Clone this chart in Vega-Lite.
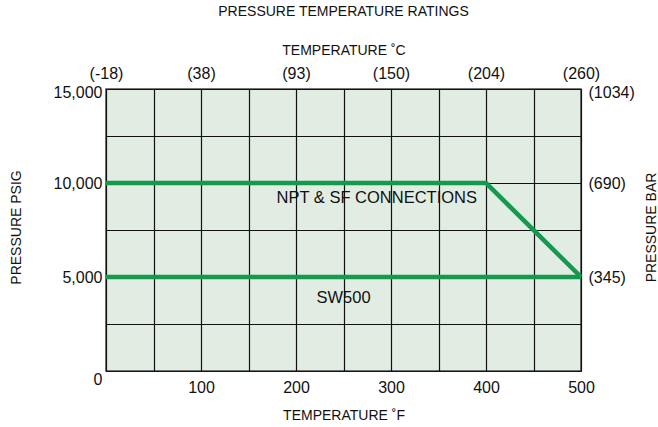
{
  "$schema": "https://vega.github.io/schema/vega-lite/v6.json",
  "autosize": "none",
  "width": 475,
  "height": 282,
  "padding": {"left": 106, "top": 89, "right": 77, "bottom": 56},
  "background": "#ffffff",
  "config": {
    "font": "Liberation Sans",
    "view": {"fill": "#e1ede3", "stroke": "#4a4a4a", "strokeWidth": 1.5},
    "axis": {"labelFont": "Liberation Sans", "titleFont": "Liberation Sans", "labelColor": "#111111", "titleColor": "#111111", "titleFontWeight": "normal", "labelFontSize": 16, "titleFontSize": 14}
  },
  "title": {"text": "PRESSURE TEMPERATURE RATINGS", "fontSize": 14, "fontWeight": "normal", "font": "Liberation Sans", "color": "#111111", "anchor": "middle", "offset": 24},
  "datasets": {
    "lines": [
      {"series": "NPT & SF CONNECTIONS", "tempF": 0, "psig": 10000},
      {"series": "NPT & SF CONNECTIONS", "tempF": 400, "psig": 10000},
      {"series": "NPT & SF CONNECTIONS", "tempF": 500, "psig": 5000},
      {"series": "SW500", "tempF": 0, "psig": 5000},
      {"series": "SW500", "tempF": 500, "psig": 5000}
    ],
    "labels": [
      {"label": "NPT & SF CONNECTIONS", "tempF": 285, "psig": 9200},
      {"label": "SW500", "tempF": 250, "psig": 3880}
    ]
  },
  "resolve": {"axis": {"x": "independent", "y": "independent"}},
  "layer": [
    {
      "data": {"name": "lines"},
      "mark": {"type": "line", "color": "#14994e", "strokeWidth": 4.5, "clip": false},
      "encoding": {
        "x": {"field": "tempF", "type": "quantitative", "scale": {"domain": [0, 500], "nice": false, "zero": false},
          "axis": {"orient": "bottom", "values": [0, 50, 100, 150, 200, 250, 300, 350, 400, 450, 500], "labelExpr": "datum.value % 100 == 0 && datum.value > 0 ? datum.label : ''", "ticks": false, "domain": false, "grid": true, "gridColor": "#111111", "gridOpacity": 1, "gridWidth": 1.2, "labelPadding": 8, "labelFlush": false, "title": "TEMPERATURE ˚F", "titleX": 237.5, "titleY": 44, "titleBaseline": "middle", "titleAlign": "center"}},
        "y": {"field": "psig", "type": "quantitative", "scale": {"domain": [0, 15000], "nice": false},
          "axis": {"orient": "left", "values": [0, 2500, 5000, 7500, 10000, 12500, 15000], "labelExpr": "datum.value % 5000 == 0 ? datum.label : ''", "ticks": false, "domain": false, "grid": true, "gridColor": "#111111", "gridOpacity": 1, "gridWidth": 1.2, "labelPadding": 4, "labelFlush": false, "labelOverlap": false, "labelBaseline": {"condition": {"test": "datum.value == 0", "value": "top"}, "value": "middle"}, "labelOffset": {"condition": {"test": "datum.value == 15000", "value": 3}, "value": 0}, "title": "PRESSURE PSIG", "titleAngle": -90, "titleX": -90, "titleY": 138, "titleBaseline": "middle", "titleAlign": "center"}},
        "detail": {"field": "series"}
      }
    },
    {
      "data": {"name": "labels"},
      "mark": {"type": "text", "fontSize": 16.5, "font": "Liberation Sans", "color": "#111111"},
      "encoding": {
        "x": {"field": "tempF", "type": "quantitative",
          "axis": {"orient": "top", "values": [0, 100, 200, 300, 400, 500], "labelExpr": "{'0': '(-18)', '100': '(38)', '200': '(93)', '300': '(150)', '400': '(204)', '500': '(260)'}[datum.value + '']", "ticks": false, "domain": false, "grid": false, "labelPadding": 8, "labelFlush": false, "labelOverlap": false, "title": "TEMPERATURE ˚C", "titleX": 237.5, "titleY": -39, "titleBaseline": "middle", "titleAlign": "center"}},
        "y": {"field": "psig", "type": "quantitative",
          "axis": {"orient": "right", "values": [5000, 10000, 15000], "labelExpr": "{'5000': '(345)', '10000': '(690)', '15000': '(1034)'}[datum.value + '']", "ticks": false, "domain": false, "grid": false, "labelPadding": 7, "labelFlush": false, "labelOverlap": false, "labelOffset": {"condition": {"test": "datum.value == 15000", "value": 3}, "value": 0}, "title": "PRESSURE BAR", "titleAngle": -90, "titleX": 70, "titleY": 138, "titleBaseline": "middle", "titleAlign": "center"}},
        "text": {"field": "label"}
      }
    }
  ]
}
